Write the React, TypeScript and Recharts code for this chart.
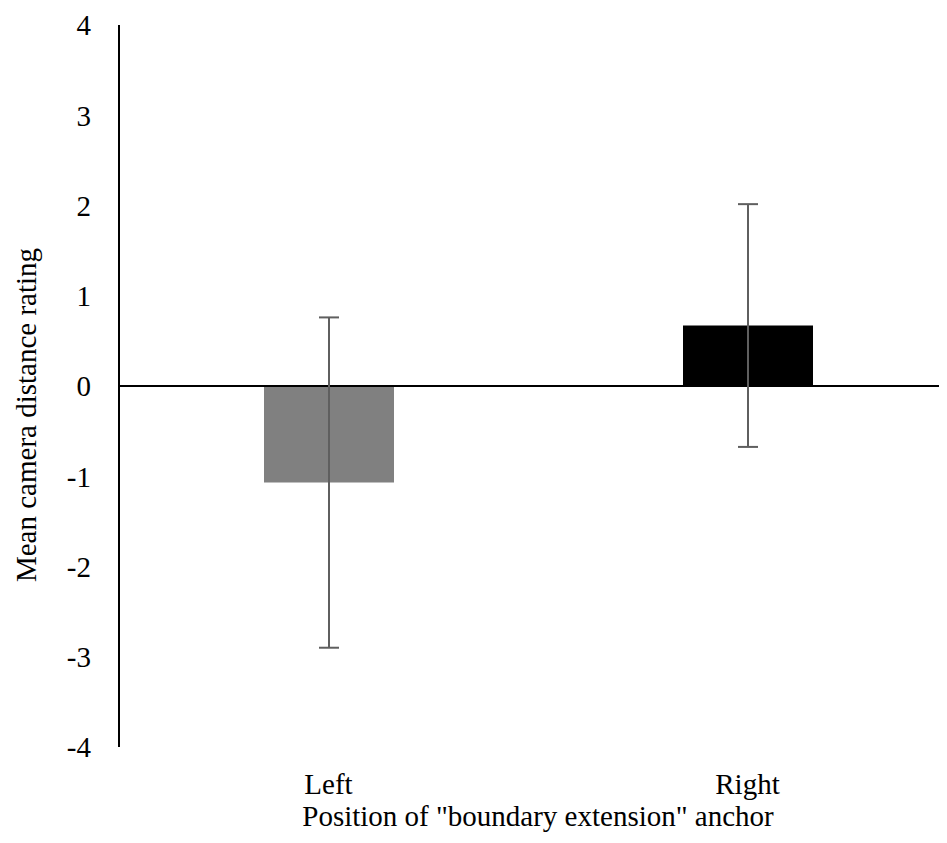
import { BarChart, Bar, XAxis, YAxis, Cell, ErrorBar, ReferenceLine, Label } from 'recharts'

// anchor positions and their mean ratings with error half-widths
const positions = ['Left', 'Right']
const means = [-1.07, 0.67]
const errors = [1.83, 1.345]
const barColors = ['#808080', '#000000']
const yTicks = [-4, -3, -2, -1, 0, 1, 2, 3, 4]

const data = positions.map((name, i) => ({ name, mean: means[i], err: errors[i] }))

const font = '"Liberation Serif", "Times New Roman", serif'
const textStyle = { fill: '#000', fontSize: 29, fontFamily: font }

export default function App() {
  return (
    <div style={{ fontFamily: font }}>
      <style>{'html, body { overflow: hidden; }'}</style>
      {/* the plot runs a little past the right edge, so the right margin is negative */}
      <BarChart
        width={939}
        height={827}
        data={data}
        margin={{ top: 17, right: -10, bottom: 28, left: 0 }}
        barCategoryGap={0}
      >
        <XAxis
          dataKey="name"
          axisLine={false}
          tickLine={false}
          tickSize={0}
          tickMargin={26}
          height={60}
          tick={textStyle}
        >
          <Label
            value={'Position of "boundary extension" anchor'}
            position="bottom"
            offset={-2}
            style={textStyle}
          />
        </XAxis>
        <YAxis
          domain={[-4, 4]}
          ticks={yTicks}
          interval={0}
          width={111}
          axisLine={{ stroke: '#000', strokeWidth: 2 }}
          tickLine={false}
          tickSize={0}
          tickMargin={28}
          tick={textStyle}
        >
          <Label
            content={({ viewBox }: any) => {
              const cx = 18
              const cy = viewBox.y + viewBox.height / 2 + 29
              return (
                <text
                  x={cx}
                  y={cy}
                  transform={`rotate(-90, ${cx}, ${cy})`}
                  textAnchor="middle"
                  dominantBaseline="central"
                  style={textStyle}
                >
                  Mean camera distance rating
                </text>
              )
            }}
          />
        </YAxis>
        <ReferenceLine y={0} stroke="#000" strokeWidth={2} />
        <Bar dataKey="mean" barSize={130} isAnimationActive={false}>
          {data.map((d, i) => (
            <Cell key={d.name} fill={barColors[i]} />
          ))}
          <ErrorBar dataKey="err" width={10} stroke="#5f5f5f" strokeWidth={2} direction="y" />
        </Bar>
      </BarChart>
    </div>
  )
}
